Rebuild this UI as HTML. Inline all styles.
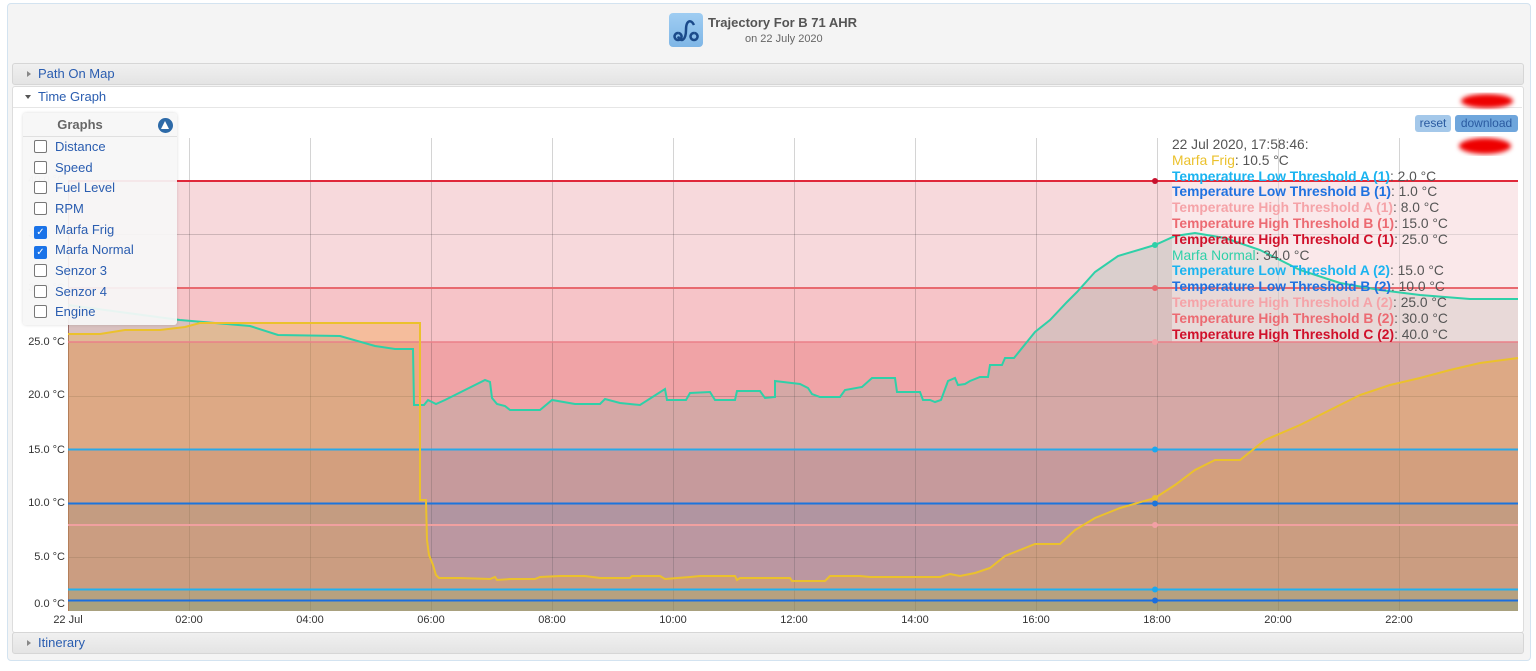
<!DOCTYPE html>
<html><head><meta charset="utf-8"><style>
body{margin:0;width:1536px;height:671px;background:#fff;font-family:"Liberation Sans",sans-serif;position:relative;overflow:hidden}
.abs{position:absolute}
.outer{left:7px;top:3px;width:1522px;height:656px;background:#f4f4f4;border:1px solid #d3e3f0;border-radius:4px}
.bar{left:12px;width:1510px;height:20px;background:linear-gradient(#f0f0f0,#e4e4e4);border:1px solid #d6d6d6;border-radius:3px;font-size:13px;color:#2a5db0;line-height:20px}
.bar span.t{position:absolute;left:25px}
.tri{position:absolute;left:14px;top:7px;width:0;height:0;border-left:4px solid #888;border-top:3px solid transparent;border-bottom:3px solid transparent}
.leg{left:23px;top:113px;width:154px;height:212px;background:rgba(246,246,246,0.93);box-shadow:0 0 3px rgba(0,0,0,0.15);border-radius:3px}
.leg .it{position:absolute;left:11px;font-size:13px;color:#2a5db0;height:18px;line-height:18px}
.cb{display:inline-block;width:11px;height:11px;border:1px solid #777;border-radius:2px;background:#fff;vertical-align:-2px;margin-right:8px}
.cb.on{background:#1a73e8;border-color:#1a73e8;color:#fff;font-size:10px;line-height:11px;text-align:center;vertical-align:-1px}
.tt{left:1172px;top:137px;font-size:13.8px;color:#555;line-height:15.8px;white-space:nowrap}
.tt b{font-weight:bold}
.btn{top:115px;height:17px;font-size:12px;color:#2a5aa0;line-height:17px;text-align:center;border-radius:3px}
</style></head><body>
<div class="abs outer"></div>
<div class="abs" style="left:669px;top:13px;width:34px;height:34px;border-radius:4px;background:linear-gradient(#9fcdf2,#7fb6e6)">
<svg width="34" height="34"><path d="M9 20 a3.5 3.5 0 1 0 0.1 0 M25 20 a3.5 3.5 0 1 0 0.1 0" fill="none" stroke="#1b4a8a" stroke-width="2.5"/><path d="M9 23.5 C12 30,17 27,17 17 C17 7,22 6,25 12" fill="none" stroke="#1b4a8a" stroke-width="2.5"/></svg></div>
<div class="abs" style="left:708px;top:15px;font-size:13px;font-weight:bold;color:#555">Trajectory For B 71 AHR</div>
<div class="abs" style="left:745px;top:33px;font-size:11px;color:#666">on 22 July 2020</div>

<div class="abs bar" style="top:63px"><div class="tri"></div><span class="t">Path On Map</span></div>
<div class="abs" style="left:12px;top:86px;width:1510px;height:545px;background:#fff;border:1px solid #ddd;border-radius:3px"></div>
<div class="abs" style="left:13px;top:87px;width:1509px;height:20px;border-bottom:1px solid #e6e6e6;font-size:13px;color:#2a5db0;line-height:20px"><div style="position:absolute;left:12px;top:8px;border-top:4px solid #555;border-left:3.5px solid transparent;border-right:3.5px solid transparent"></div><span style="position:absolute;left:25px">Time Graph</span></div>
<div class="abs bar" style="top:632px"><div class="tri"></div><span class="t">Itinerary</span></div>

<svg class="abs" style="left:0;top:0" width="1536" height="671">
<defs><filter id="bl"><feGaussianBlur stdDeviation="2.5"/></filter></defs>
<rect x="68" y="181" width="1450" height="107" fill="#f7d9dc"/>
<rect x="68" y="288" width="1450" height="54" fill="#f6c4c8"/>
<rect x="68" y="342" width="1450" height="108" fill="#f0a3a6"/>
<rect x="68" y="450" width="1450" height="53" fill="#dc9198"/>
<rect x="68" y="503" width="1450" height="22" fill="#bf8aa0"/>
<rect x="68" y="525" width="1450" height="64" fill="#cc8ca0"/>
<rect x="68" y="589" width="1450" height="11" fill="#a8939c"/>
<rect x="68" y="600" width="1450" height="11" fill="#8a949c"/>
<g stroke="rgba(0,0,0,0.17)" stroke-width="1">
<line x1="189.5" y1="138" x2="189.5" y2="611"/><line x1="310.5" y1="138" x2="310.5" y2="611"/><line x1="431.5" y1="138" x2="431.5" y2="611"/><line x1="552.5" y1="138" x2="552.5" y2="611"/><line x1="673.5" y1="138" x2="673.5" y2="611"/><line x1="794.5" y1="138" x2="794.5" y2="611"/><line x1="915.5" y1="138" x2="915.5" y2="611"/><line x1="1036.5" y1="138" x2="1036.5" y2="611"/><line x1="1157.5" y1="138" x2="1157.5" y2="611"/><line x1="1278.5" y1="138" x2="1278.5" y2="611"/><line x1="1399.5" y1="138" x2="1399.5" y2="611"/>
<line x1="68" y1="234.5" x2="1518" y2="234.5"/><line x1="68" y1="396.5" x2="1518" y2="396.5"/><line x1="68" y1="557.5" x2="1518" y2="557.5"/>
</g>
<line x1="68.5" y1="181" x2="68.5" y2="611" stroke="#a05050" stroke-width="1"/>
<polygon fill="rgba(139,181,168,0.27)" points="68,611 68,305 120,312 180,320 250,326 278,335 340,336 375,346 395,349 413,349 414,405 424,405 428,400 436,404 445,400 485,380 490,382 492,398 497,404 505,406 510,410 520,410 540,410 552,400 575,404 600,404 605,399 620,403 640,405 665,389 667,400 686,400 690,393 710,392 715,400 735,400 737,391 760,391 765,398 775,397 775,381 800,384 808,388 812,394 820,397 840,397 845,390 862,387 872,378 895,378 897,392 920,392 923,400 930,400 935,402 941,400 948,381 955,378 958,385 965,384 970,381 980,377 988,377 990,365 1002,365 1005,358 1014,358 1035,332 1050,320 1067,302 1077,292 1095,272 1118,256 1155,245 1175,236 1195,233 1225,238 1260,250 1300,270 1340,283 1380,290 1420,295 1470,299 1518,299 1518,611"/>
<polygon fill="rgba(243,172,55,0.3)" points="68,611 68,334 100,334 125,330 160,330 185,327 200,323 230,323 420,323 420,500 426,500 427,540 429,555 433,565 436,575 439,578 460,578 490,579 495,577 497,580 510,579 535,579 540,577 560,576 585,576 600,578 630,578 632,576 660,576 665,579 690,577 700,576 735,576 737,580 740,578 760,578 790,578 792,581 825,581 830,576 860,576 870,577 940,577 950,574 960,576 975,573 990,568 1005,556 1020,550 1035,544 1060,544 1075,530 1095,518 1120,508 1155,498 1175,485 1195,470 1215,460 1240,460 1265,440 1300,425 1330,410 1360,395 1390,385 1420,378 1450,370 1480,363 1518,358 1518,611"/>
<rect x="1172" y="181" width="346" height="161" fill="rgba(255,255,255,0.4)"/>
<g stroke-width="2">
<line x1="68" y1="181" x2="1518" y2="181" stroke="#e0283a"/>
<line x1="68" y1="288" x2="1518" y2="288" stroke="#e8696f"/>
<line x1="68" y1="342" x2="1518" y2="342" stroke="#ea8088" stroke-width="1.5"/>
<line x1="68" y1="449.5" x2="1518" y2="449.5" stroke="#2aa8e8"/>
<line x1="68" y1="503.5" x2="1518" y2="503.5" stroke="#1c74dc"/>
<line x1="68" y1="525" x2="1518" y2="525" stroke="#f0a0a0"/>
<line x1="68" y1="589.5" x2="1518" y2="589.5" stroke="#22b0f0"/>
<line x1="68" y1="600.5" x2="1518" y2="600.5" stroke="#1a6ee0"/>
</g>
<polyline fill="none" stroke="#2fd0a8" stroke-width="2" points="68,305 120,312 180,320 250,326 278,335 340,336 375,346 395,349 413,349 414,405 424,405 428,400 436,404 445,400 485,380 490,382 492,398 497,404 505,406 510,410 520,410 540,410 552,400 575,404 600,404 605,399 620,403 640,405 665,389 667,400 686,400 690,393 710,392 715,400 735,400 737,391 760,391 765,398 775,397 775,381 800,384 808,388 812,394 820,397 840,397 845,390 862,387 872,378 895,378 897,392 920,392 923,400 930,400 935,402 941,400 948,381 955,378 958,385 965,384 970,381 980,377 988,377 990,365 1002,365 1005,358 1014,358 1035,332 1050,320 1067,302 1077,292 1095,272 1118,256 1155,245 1175,236 1195,233 1225,238 1260,250 1300,270 1340,283 1380,290 1420,295 1470,299 1518,299"/>
<polyline fill="none" stroke="#ebc12c" stroke-width="2" points="68,334 100,334 125,330 160,330 185,327 200,323 230,323 420,323 420,500 426,500 427,540 429,555 433,565 436,575 439,578 460,578 490,579 495,577 497,580 510,579 535,579 540,577 560,576 585,576 600,578 630,578 632,576 660,576 665,579 690,577 700,576 735,576 737,580 740,578 760,578 790,578 792,581 825,581 830,576 860,576 870,577 940,577 950,574 960,576 975,573 990,568 1005,556 1020,550 1035,544 1060,544 1075,530 1095,518 1120,508 1155,498 1175,485 1195,470 1215,460 1240,460 1265,440 1300,425 1330,410 1360,395 1390,385 1420,378 1450,370 1480,363 1518,358"/>
<g>
<circle cx="1155" cy="181" r="3" fill="#c8102e"/><circle cx="1155" cy="245" r="3" fill="#2fd0a8"/><circle cx="1155" cy="288" r="3" fill="#e8696f"/><circle cx="1155" cy="342" r="3" fill="#f3a0a5"/><circle cx="1155" cy="449.5" r="3" fill="#1aa8f0"/><circle cx="1155" cy="498" r="3" fill="#ebc12c"/><circle cx="1155" cy="503.5" r="3" fill="#1c74dc"/><circle cx="1155" cy="525" r="3" fill="#f3a0a5"/><circle cx="1155" cy="589.5" r="3" fill="#1aa8f0"/><circle cx="1155" cy="600.5" r="3" fill="#1a6ee0"/>
</g>
<g font-size="11" fill="#333" text-anchor="end" font-family="Liberation Sans,sans-serif">
<text x="65" y="183" fill="#bbb">40.0 °C</text><text x="65" y="237" fill="#bbb">35.0 °C</text><text x="65" y="291" fill="#bbb">30.0 °C</text>
<text x="65" y="345">25.0 °C</text><text x="65" y="398">20.0 °C</text><text x="65" y="453">15.0 °C</text><text x="65" y="506">10.0 °C</text><text x="65" y="560">5.0 °C</text><text x="65" y="607">0.0 °C</text>
</g>
<g font-size="11" fill="#333" text-anchor="middle" font-family="Liberation Sans,sans-serif">
<text x="68" y="623">22 Jul</text><text x="189" y="623">02:00</text><text x="310" y="623">04:00</text><text x="431" y="623">06:00</text><text x="552" y="623">08:00</text><text x="673" y="623">10:00</text><text x="794" y="623">12:00</text><text x="915" y="623">14:00</text><text x="1036" y="623">16:00</text><text x="1157" y="623">18:00</text><text x="1278" y="623">20:00</text><text x="1399" y="623">22:00</text>
</g>
<ellipse cx="1487" cy="101" rx="26" ry="7" fill="#e00" filter="url(#bl)"/>
<ellipse cx="1485" cy="146" rx="26" ry="8" fill="#e00" filter="url(#bl)"/>
</svg>

<div class="abs btn" style="left:1415px;width:36px;background:#a4c8ea">reset</div>
<div class="abs btn" style="left:1455px;width:63px;background:#6fa6dc">download</div>

<div class="abs tt">22 Jul 2020, 17:58:46:<br>
<span style="color:#ebc12c">Marfa Frig</span>: 10.5 °C<br>
<b style="color:#1ab4f0">Temperature Low Threshold A (1)</b>: 2.0 °C<br>
<b style="color:#1f72e0">Temperature Low Threshold B (1)</b>: 1.0 °C<br>
<b style="color:#f5a3a8">Temperature High Threshold A (1)</b>: 8.0 °C<br>
<b style="color:#ec6a72">Temperature High Threshold B (1)</b>: 15.0 °C<br>
<b style="color:#d0102a">Temperature High Threshold C (1)</b>: 25.0 °C<br>
<span style="color:#2fd0a8">Marfa Normal</span>: 34.0 °C<br>
<b style="color:#1ab4f0">Temperature Low Threshold A (2)</b>: 15.0 °C<br>
<b style="color:#1f72e0">Temperature Low Threshold B (2)</b>: 10.0 °C<br>
<b style="color:#f5a3a8">Temperature High Threshold A (2)</b>: 25.0 °C<br>
<b style="color:#ec6a72">Temperature High Threshold B (2)</b>: 30.0 °C<br>
<b style="color:#d0102a">Temperature High Threshold C (2)</b>: 40.0 °C</div>

<div class="abs leg">
<div style="position:absolute;left:0;top:0;width:154px;height:23px;border-bottom:1px solid #e0e0e0;font-size:13px;font-weight:bold;color:#666;text-align:center;line-height:23px;text-indent:-40px">Graphs</div>
<div style="position:absolute;left:135px;top:5px;width:15px;height:15px;border-radius:50%;background:#2d6aa8"><div style="position:absolute;left:3px;top:3px;border-bottom:8px solid #fff;border-left:4.5px solid transparent;border-right:4.5px solid transparent"></div></div>
<div class="it" style="top:25px"><span class="cb"></span>Distance</div>
<div class="it" style="top:46px"><span class="cb"></span>Speed</div>
<div class="it" style="top:66px"><span class="cb"></span>Fuel Level</div>
<div class="it" style="top:87px"><span class="cb"></span>RPM</div>
<div class="it" style="top:108px"><span class="cb on">✓</span>Marfa Frig</div>
<div class="it" style="top:128px"><span class="cb on">✓</span>Marfa Normal</div>
<div class="it" style="top:149px"><span class="cb"></span>Senzor 3</div>
<div class="it" style="top:170px"><span class="cb"></span>Senzor 4</div>
<div class="it" style="top:190px"><span class="cb"></span>Engine</div>
</div>
</body></html>
